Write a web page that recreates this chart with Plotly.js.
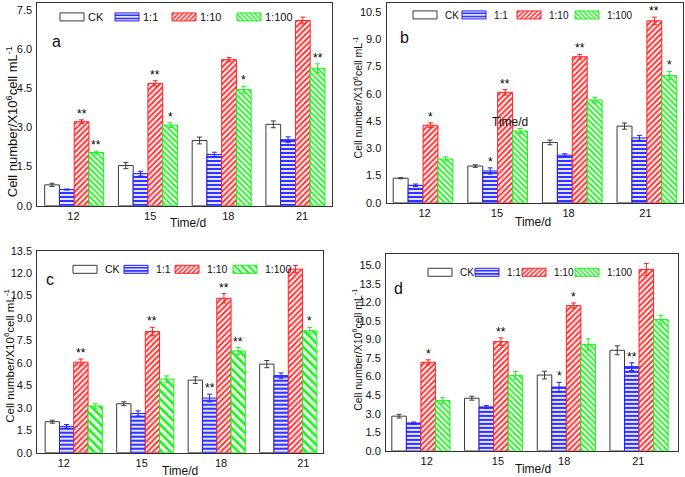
<!DOCTYPE html>
<html><head><meta charset="utf-8">
<script src="https://cdn.plot.ly/plotly-3.0.1.min.js"></script>
<style>html,body{margin:0;padding:0;background:#fff}#chart{width:685px;height:477px}</style>
</head><body><div id="chart"></div>
<script>
// ---------- data ----------
const days = ['12', '15', '18', '21'];
const seriesNames = ['CK', '1:1', '1:10', '1:100'];
const panelLetters = ['a', 'b', 'c', 'd'];

// panel a
const aCK = [0.80, 1.54, 2.50, 3.12];     const aCKerr = [0.06, 0.12, 0.13, 0.13];
const a11 = [0.62, 1.23, 1.96, 2.53];     const a11err = [0.02, 0.09, 0.09, 0.11];
const a110 = [3.22, 4.69, 5.60, 7.10];    const a110err = [0.07, 0.10, 0.08, 0.13];
const a1100 = [2.04, 3.09, 4.45, 5.27];   const a1100err = [0.05, 0.09, 0.13, 0.17];
const aSig11 = ['', '', '', ''];
const aSig110 = ['**', '**', '', ''];
const aSig1100 = ['**', '*', '*', '**'];

// panel b
const bCK = [1.35, 2.02, 3.32, 4.22];     const bCKerr = [0.03, 0.07, 0.13, 0.17];
const b11 = [0.96, 1.75, 2.62, 3.57];     const b11err = [0.07, 0.17, 0.08, 0.14];
const b110 = [4.27, 6.08, 8.04, 10.02];   const b110err = [0.13, 0.15, 0.13, 0.2];
const b1100 = [2.41, 3.95, 5.66, 7.00];   const b1100err = [0.12, 0.14, 0.15, 0.23];
const bSig11 = ['', '*', '', ''];
const bSig110 = ['*', '**', '**', '**'];
const bSig1100 = ['', '', '', '*'];

// panel c
const cCK = [2.07, 3.27, 4.85, 5.92];     const cCKerr = [0.1, 0.13, 0.22, 0.24];
const c11 = [1.76, 2.62, 3.65, 5.15];     const c11err = [0.12, 0.17, 0.26, 0.18];
const c110 = [6.05, 8.10, 10.32, 12.27];  const c110err = [0.21, 0.28, 0.31, 0.24];
const c1100 = [3.12, 4.92, 6.80, 8.15];   const c1100err = [0.15, 0.21, 0.23, 0.23];
const cSig11 = ['', '', '**', ''];
const cSig110 = ['**', '**', '**', ''];
const cSig1100 = ['', '', '**', '*'];

// panel d
const dCK = [2.80, 4.25, 6.12, 8.12];     const dCKerr = [0.15, 0.16, 0.31, 0.36];
const d11 = [2.25, 3.55, 5.15, 6.80];     const d11err = [0.08, 0.1, 0.38, 0.31];
const d110 = [7.15, 8.82, 11.73, 14.65];  const d110err = [0.2, 0.3, 0.21, 0.47];
const d1100 = [4.07, 6.10, 8.60, 10.60];  const d1100err = [0.23, 0.31, 0.44, 0.35];
const dSig11 = ['', '', '*', '**'];
const dSig110 = ['*', '**', '*', ''];
const dSig1100 = ['', '', '', ''];

// ---------- styling / layout (not data) ----------
const W = 685, H = 477;
const FONT = 'Liberation Sans, Arial, sans-serif';
const colors = ['#3a3a3a', '#1f1fff', '#ff2222', '#22ee22'];
const patterns = [
  null,
  {shape: '-', bgcolor: '#e4e4ff', size: 4, solidity: 0.45},
  {shape: '/', bgcolor: '#fff0f0', size: 4, solidity: 0.45},
  {shape: '\\', bgcolor: '#f0fff0', size: 4, solidity: 0.45}
];
const offsets = [-0.3, -0.1, 0.1, 0.3];

// pixel boxes: [left, right, top, bottom]
const boxes = [
  [37.3, 332.3, 0, 204],
  [386.5, 682.7, 0, 201],
  [37.3, 323.3, 249.3, 452.5],
  [386, 678.3, 252.5, 450.7]
];
const xRanges = [[-0.5, 3.5], [-0.49, 3.48], [-0.51, 3.49], [-0.48, 3.54]];
const yRanges = [[0, 7.77], [0, 11.0], [0, 13.5], [0, 15.9]];
const tickShift = [[-0.01, 0.03, 0.09, 0.09], [0.02, -0.01, -0.05, -0.02], [-0.14, -0.05, 0.06, 0.21], [0.08, 0.06, -0.03, -0.01]];
const greenSize = [4, 4, 6, 4];
const legendPos = [[52, 14], [405, 12], [65, 268], [420, 271]];
const legendStep = [[0, 55, 112, 177], [0, 49, 104, 162], [0, 51, 102, 160], [0, 47, 94, 147]];
const legendFont = [11, 10, 10.5, 10];
const legendTextX = [36, 34, 35, 33];
const letterPos = [[56, 39], [404, 35], [50, 278], [398, 287]];
const yTitlePos = [[12, 120], [357, 95], [9, 355], [357, 349]];
const yTitleSize = [13, 10.5, 11.5, 10.5];
const xTitlePos = [[188, 221], [533, 220], [180, 471], [533, 469]];

const panels = [
  {vals: [aCK, a11, a110, a1100], errs: [aCKerr, a11err, a110err, a1100err], sig: [null, aSig11, aSig110, aSig1100]},
  {vals: [bCK, b11, b110, b1100], errs: [bCKerr, b11err, b110err, b1100err], sig: [null, bSig11, bSig110, bSig1100]},
  {vals: [cCK, c11, c110, c1100], errs: [cCKerr, c11err, c110err, c1100err], sig: [null, cSig11, cSig110, cSig1100]},
  {vals: [dCK, d11, d110, d1100], errs: [dCKerr, d11err, d110err, d1100err], sig: [null, dSig11, dSig110, dSig1100]}
];

const idx = days.map((d, i) => i);
const traces = [];
const annotations = [];
const layout = {
  width: W, height: H,
  margin: {l: 0, r: 0, t: 0, b: 0},
  paper_bgcolor: '#fff', plot_bgcolor: '#fff',
  barmode: 'group', bargap: 0.2, bargroupgap: 0,
  font: {family: FONT, size: 11, color: '#111'},
  showlegend: true
};

panels.forEach((p, k) => {
  const sfx = k === 0 ? '' : String(k + 1);
  const xa = 'x' + sfx, ya = 'y' + sfx;
  const lg = 'legend' + sfx;
  const [L, R, T, B] = boxes[k];
  p.vals.forEach((v, s) => {
    const marker = {color: s === 0 ? '#ffffff' : colors[s], line: {color: colors[s], width: 1}};
    if (patterns[s]) {
      marker.pattern = Object.assign({}, patterns[s], {fgcolor: colors[s]});
      if (s === 3) marker.pattern.size = greenSize[k];
    }
    traces.push({
      type: 'bar', x: idx, y: v, name: seriesNames[s],
      xaxis: xa, yaxis: ya, legend: lg,
      marker: marker,
      error_y: {type: 'data', array: p.errs[s], visible: true, color: colors[s], thickness: 1, width: 2.5},
      hoverinfo: 'skip'
    });
    if (p.sig[s]) {
      p.sig[s].forEach((t, i) => {
        if (!t) return;
        annotations.push({
          xref: xa, yref: ya, x: i + offsets[s], y: v[i] + p.errs[s][i],
          text: t, showarrow: false, yanchor: 'bottom', yshift: -3,
          font: {family: FONT, size: 12, color: '#000'}
        });
      });
    }
  });
  layout['xaxis' + sfx] = {
    domain: [L / W, R / W], anchor: ya, range: xRanges[k],
    tickmode: 'array', tickvals: idx.map((i) => i + tickShift[k][i]), ticktext: days,
    showline: true, mirror: true, linecolor: '#333', linewidth: 1,
    showgrid: false, zeroline: false, ticks: '', tickfont: {family: FONT, size: 11, color: '#111'}
  };
  layout['yaxis' + sfx] = {
    domain: [1 - B / H, 1 - T / H], anchor: xa, range: yRanges[k],
    tickmode: 'linear', tick0: 0, dtick: 1.5, tickformat: '.1f',
    showline: true, mirror: true, linecolor: '#333', linewidth: 1,
    showgrid: false, zeroline: false, ticks: 'outside', ticklen: 2, tickcolor: 'rgba(0,0,0,0)',
    tickfont: {family: FONT, size: 11, color: '#111'}
  };
  layout[lg] = {
    orientation: 'h', x: legendPos[k][0] / W, y: 1 - legendPos[k][1] / H,
    xanchor: 'left', yanchor: 'middle', bgcolor: 'rgba(0,0,0,0)',
    font: {family: FONT, size: legendFont[k], color: '#111'}, itemclick: false, itemdoubleclick: false
  };
  annotations.push({xref: 'paper', yref: 'paper', x: letterPos[k][0] / W, y: 1 - letterPos[k][1] / H,
    text: panelLetters[k], showarrow: false, xanchor: 'center', yanchor: 'middle',
    font: {family: FONT, size: 16, color: '#111'}});
  annotations.push({xref: 'paper', yref: 'paper', x: yTitlePos[k][0] / W, y: 1 - yTitlePos[k][1] / H,
    text: 'Cell number/X10<sup>6</sup>cell mL<sup>-1</sup>', textangle: -90, showarrow: false,
    xanchor: 'center', yanchor: 'middle', font: {family: FONT, size: yTitleSize[k], color: '#111'}});
  annotations.push({xref: 'paper', yref: 'paper', x: xTitlePos[k][0] / W, y: 1 - xTitlePos[k][1] / H,
    text: 'Time/d', showarrow: false, xanchor: 'center', yanchor: 'middle',
    font: {family: FONT, size: 12, color: '#111'}});
});
// stray label inside panel b
annotations.push({xref: 'paper', yref: 'paper', x: 510 / W, y: 1 - 120 / H, text: 'Time/d', showarrow: false,
  xanchor: 'center', yanchor: 'middle', font: {family: FONT, size: 12, color: '#111'}});
layout.annotations = annotations;

function tidyLegends() {
  ['legend', 'legend2', 'legend3', 'legend4'].forEach((id, k) => {
    const g = document.querySelector('.infolayer > g.' + id);
    if (!g) return;
    const items = g.querySelectorAll('g.traces');
    let x0 = null, y0 = 0;
    items.forEach((it, i) => {
      const m = /translate\(\s*([-\d.]+)[ ,]+([-\d.]+)\s*\)/.exec(it.getAttribute('transform') || '');
      if (m && x0 === null) { x0 = parseFloat(m[1]); y0 = parseFloat(m[2]); }
      if (x0 !== null) it.setAttribute('transform', 'translate(' + (x0 + legendStep[k][i]) + ',' + y0 + ')');
      const t = it.querySelector('text.legendtext');
      if (t) {
        t.setAttribute('x', legendTextX[k]);
        t.querySelectorAll('tspan[x]').forEach((ts) => ts.setAttribute('x', legendTextX[k]));
      }
      it.querySelectorAll('.legendpoints path').forEach((el) => el.setAttribute('d', 'M12,4H-12V-4H12Z'));
    });
  });
}

Plotly.newPlot('chart', traces, layout, {staticPlot: true, displayModeBar: false}).then(tidyLegends);
</script>
</body></html>
